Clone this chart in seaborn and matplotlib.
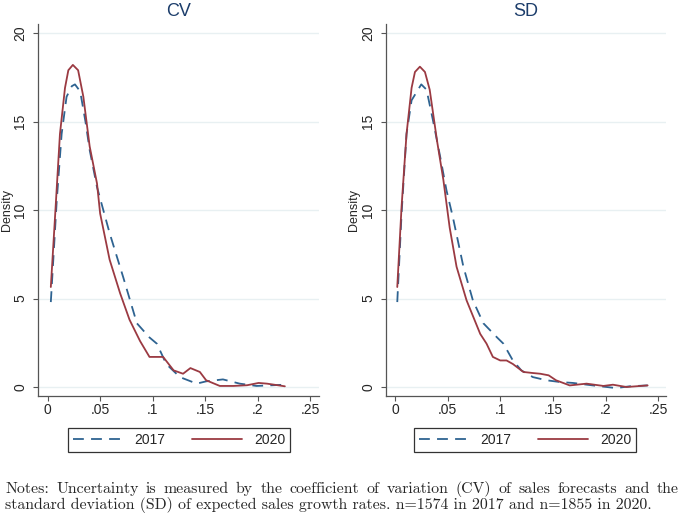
import matplotlib.pyplot as plt
import pandas as pd
import seaborn as sns

# Kernel density curves
cv_x_2017 = [0.003, 0.0086, 0.0133, 0.018, 0.023, 0.026, 0.031, 0.036, 0.040, 0.047, 0.059, 0.072,
             0.085, 0.097, 0.104, 0.113, 0.126, 0.142, 0.151, 0.167, 0.183, 0.199, 0.226]
cv_y_2017 = [4.8, 10.5, 14.3, 16.4, 17.0, 17.1, 16.7, 15.0, 13.4, 11.3, 8.7, 6.2,
             3.6, 2.8, 2.45, 1.3, 0.56, 0.19, 0.32, 0.43, 0.19, 0.06, 0.13]
cv_x_2020 = [0.003, 0.007, 0.0117, 0.0165, 0.0197, 0.024, 0.029, 0.034, 0.040, 0.047, 0.050, 0.059,
             0.069, 0.078, 0.088, 0.097, 0.110, 0.120, 0.129, 0.136, 0.145, 0.151, 0.164, 0.177,
             0.190, 0.201, 0.209, 0.226]
cv_y_2020 = [5.65, 9.6, 14.3, 16.9, 17.9, 18.2, 17.9, 16.4, 13.6, 11.5, 9.8, 7.2,
             5.3, 3.8, 2.6, 1.7, 1.7, 0.94, 0.75, 1.07, 0.85, 0.38, 0.06, 0.06,
             0.1, 0.23, 0.19, 0.04]

sd_x_2017 = [0.0022, 0.0063, 0.011, 0.0158, 0.025, 0.030, 0.036, 0.043, 0.049, 0.055, 0.065, 0.074,
             0.084, 0.097, 0.103, 0.112, 0.120, 0.131, 0.144, 0.157, 0.169, 0.188, 0.210, 0.223, 0.240]
sd_y_2017 = [4.8, 9.8, 14.3, 16.2, 17.1, 16.8, 15.1, 13.0, 11.1, 9.6, 6.8, 4.9,
             3.6, 2.8, 2.45, 1.5, 0.94, 0.56, 0.38, 0.28, 0.23, 0.09, -0.06, 0.04, 0.09]
sd_x_2020 = [0.0022, 0.0063, 0.011, 0.0158, 0.019, 0.0237, 0.0285, 0.033, 0.040, 0.046, 0.052, 0.0585,
             0.068, 0.081, 0.087, 0.093, 0.100, 0.106, 0.112, 0.122, 0.131, 0.138, 0.146, 0.153,
             0.166, 0.182, 0.198, 0.207, 0.220, 0.240]
sd_y_2020 = [5.65, 10.2, 14.3, 16.9, 17.8, 18.1, 17.8, 16.8, 13.9, 11.7, 9.0, 6.8,
             4.9, 3.0, 2.45, 1.7, 1.5, 1.5, 1.3, 0.85, 0.79, 0.75, 0.66, 0.38,
             0.09, 0.19, 0.06, 0.13, 0.0, 0.09]

x_ticks = [0, 0.05, 0.1, 0.15, 0.2, 0.25]
x_tick_labels = ['0', '.05', '.1', '.15', '.2', '.25']
y_ticks = [0, 5, 10, 15, 20]

notes_line1 = ("Notes: Uncertainty is measured by the coefficient of variation (CV) "
               "of sales forecasts and the")
notes_line2 = ("standard deviation (SD) of expected sales growth rates. "
               "n=1574 in 2017 and n=1855 in 2020.")

sns.set_style('white')
plt.rcParams['font.family'] = ['Liberation Sans', 'DejaVu Sans']

navy = '#2e6391'
maroon = '#9b3a42'

W, H = 685, 515
fig = plt.figure(figsize=(6.85, 5.15), dpi=100)
ax1 = fig.add_axes([0.0555, 0.231, 0.410, 0.722])
ax2 = fig.add_axes([0.5635, 0.231, 0.409, 0.722])

panels = [
    (ax1, 'CV', cv_x_2017, cv_y_2017, cv_x_2020, cv_y_2020, (-0.0092, 0.2584), 68, -0.089),
    (ax2, 'SD', sd_x_2017, sd_y_2017, sd_x_2020, sd_y_2020, (-0.0085, 0.2576), 414, -0.093),
]

for ax, title, x17, y17, x20, y20, xlim, leg_left, lab_x in panels:
    d17 = pd.DataFrame({'x': x17, 'y': y17})
    d20 = pd.DataFrame({'x': x20, 'y': y20})
    sns.lineplot(data=d17, x='x', y='y', ax=ax, color=navy, lw=1.3,
                 linestyle=(0, (6, 4)), label='2017', sort=False)
    sns.lineplot(data=d20, x='x', y='y', ax=ax, color=maroon, lw=1.3,
                 label='2020', sort=False)

    ax.set_xlim(*xlim)
    ax.set_ylim(-0.51, 20.5)
    ax.set_xticks(x_ticks)
    ax.set_xticklabels(x_tick_labels, fontsize=10)
    ax.set_yticks(y_ticks)
    ax.set_yticklabels([str(v) for v in y_ticks], fontsize=10, rotation=90, va='center')
    for v in y_ticks:
        ax.axhline(v, color='#e8f0f2', lw=1.0, zorder=0)

    ax.set_title(title, fontsize=13, color='#1c3d6b', pad=6)
    ax.set_xlabel('')
    ax.set_ylabel('Density', fontsize=9)
    ax.yaxis.set_label_coords(lab_x, 0.5)

    for s in ['top', 'right']:
        ax.spines[s].set_visible(False)
    for s in ['left', 'bottom']:
        ax.spines[s].set_color('#555555')
        ax.spines[s].set_linewidth(0.9)
    ax.tick_params(axis='x', direction='out', length=3.6, width=0.8, color='#555555',
                   bottom=True, pad=1.5)
    ax.tick_params(axis='y', direction='out', length=3.6, width=0.8, color='#555555',
                   left=True, pad=4.3)

    ax.legend_.remove()
    handles, labels = ax.get_legend_handles_labels()
    leg = fig.legend(handles, labels, ncol=2, mode='expand', fontsize=10,
                     loc='lower left', handlelength=3.6, handletextpad=0.85,
                     bbox_to_anchor=(leg_left / W, 1 - 452 / H, 222 / W, 22 / H),
                     bbox_transform=fig.transFigure, borderaxespad=0, fancybox=False,
                     framealpha=1, edgecolor='#333333', borderpad=0.35)
    leg.get_frame().set_linewidth(0.9)

# Notes: first line justified to the full width, second line left aligned
note_size = 11.4
renderer = fig.canvas.get_renderer()
words = notes_line1.split(' ')
texts = [fig.text(0, 1 - 493 / H, w, fontsize=note_size, family='cmr10', va='baseline')
         for w in words]
widths = [t.get_window_extent(renderer).width for t in texts]
left_px, right_px = 5, 679
gap = (right_px - left_px - sum(widths)) / (len(words) - 1)
pos = left_px
for t, w in zip(texts, widths):
    t.set_x(pos / W)
    pos += w + gap
fig.text(left_px / W, 1 - 509 / H, notes_line2, fontsize=note_size, family='cmr10',
         va='baseline')

fig.savefig('out.png', dpi=100)
